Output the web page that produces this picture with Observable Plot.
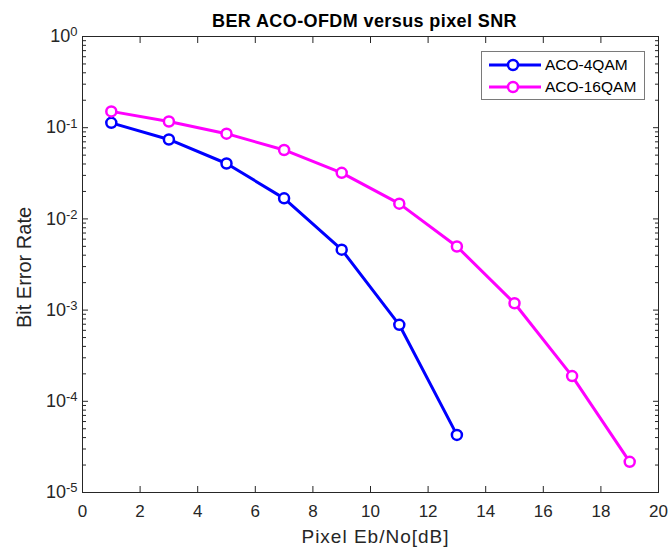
<!DOCTYPE html>
<html><head><meta charset="utf-8">
<script src="https://cdn.jsdelivr.net/npm/d3@7"></script>
<script src="https://cdn.jsdelivr.net/npm/@observablehq/plot@0.6"></script>
<style>
body{margin:0;background:#fff}
#wrap{position:relative;width:669px;height:549px;font-family:"Liberation Sans",Arial,Helvetica,sans-serif;color:#262626}
#legend{position:absolute;left:481px;top:51px;width:162px;height:47px;border:1px solid #7a7a7a;background:#fff;box-sizing:content-box}
.li{position:absolute;left:6px;height:20px;display:flex;align-items:center;font-size:15.5px;color:#000}
.li svg{margin-right:3px}
</style>
</head><body><div id="wrap"></div>
<script>
// ---- data ----
const snrDb = [1, 3, 5, 7, 9, 11, 13, 15, 17, 19];
const ber4QAM = [0.113, 0.0743, 0.0405, 0.0168, 0.0046, 0.00069, 0.0000428];
const ber16QAM = [0.151, 0.117, 0.086, 0.057, 0.032, 0.0147, 0.00498, 0.00119, 0.000189, 0.0000217];
const seriesNames = ["ACO-4QAM", "ACO-16QAM"];
const seriesColors = ["#0000ff", "#ff00ff"];
const xTicks = [0, 2, 4, 6, 8, 10, 12, 14, 16, 18, 20];
const yTicks = [1e-5, 1e-4, 1e-3, 1e-2, 1e-1, 1];
const titleText = "BER ACO-OFDM versus pixel SNR";
const xLabel = "Pixel Eb/No[dB]";
const yLabel = "Bit Error Rate";

const yMinor = [];
for (let e = -5; e < 0; e++) for (let m = 2; m <= 9; m++) yMinor.push(m * Math.pow(10, e));

const rows = [
  ...ber4QAM.map((v, i) => ({x: snrDb[i], y: v, s: seriesNames[0]})),
  ...ber16QAM.map((v, i) => ({x: snrDb[i], y: v, s: seriesNames[1]}))
];

const ink = "#262626";
const plot = Plot.plot({
  width: 669, height: 549,
  marginLeft: 82, marginRight: 11, marginTop: 36, marginBottom: 57,
  style: {fontFamily: '"Liberation Sans",Arial,Helvetica,sans-serif', fontSize: "17px", color: ink, background: "white", overflow: "visible"},
  x: {domain: [0, 20], label: null},
  y: {type: "log", domain: [1e-5, 1], label: null},
  color: {domain: seriesNames, range: seriesColors},
  marks: [
    Plot.frame({stroke: ink, strokeWidth: 1}),
    // major ticks inward
    Plot.axisX(xTicks, {anchor: "bottom", tickSize: -6, fill: "none", label: null, stroke: ink}),
    Plot.axisX(xTicks, {anchor: "top", tickSize: -6, fill: "none", label: null, stroke: ink}),
    Plot.axisY(yTicks, {anchor: "left", tickSize: -6, fill: "none", label: null, stroke: ink}),
    Plot.axisY(yTicks, {anchor: "right", tickSize: -6, fill: "none", label: null, stroke: ink}),
    Plot.axisY(yMinor, {anchor: "left", tickSize: -4, fill: "none", label: null, stroke: ink}),
    Plot.axisY(yMinor, {anchor: "right", tickSize: -4, fill: "none", label: null, stroke: ink}),
    // tick labels
    Plot.axisX(xTicks, {anchor: "bottom", tickSize: 0, tickPadding: 12, label: null, fill: ink, tickFormat: d => String(d)}),
    Plot.axisY(yTicks, {anchor: "left", tickSize: 0, tickPadding: 5, label: null, fill: ink, tickFormat: d => "E" + Math.round(Math.log10(d))}),
    // data
    Plot.line(rows, {x: "x", y: "y", z: "s", stroke: "s", strokeWidth: 3}),
    Plot.dot(rows, {x: "x", y: "y", stroke: "s", r: 5, strokeWidth: 2.5, fill: "white"}),
    // titles
    Plot.text([titleText], {frameAnchor: "top", dx: -6, dy: -15, fontSize: 18, fontWeight: "bold", fill: "#000", lineAnchor: "middle", textAnchor: "middle"}),
    Plot.text([xLabel], {frameAnchor: "bottom", dx: 5, dy: 44, fontSize: 19, fill: ink, lineAnchor: "middle", textAnchor: "middle"}),
    Plot.text([yLabel], {frameAnchor: "left", dx: -58, dy: 3, rotate: -90, fontSize: 20, fill: ink, lineAnchor: "middle", textAnchor: "middle"})
  ]
});

const svg = d3.select(plot);
svg.selectAll('g[aria-label="x-axis tick label"]').style("font-size", "17px").attr("font-size", 17);
svg.selectAll('g[aria-label="y-axis tick label"]').style("font-size", "18px").attr("font-size", 18);
// superscript exponents on y tick labels
svg.selectAll('g[aria-label="y-axis tick label"] text').each(function() {
  const t = d3.select(this);
  const s = t.text();
  if (!s.startsWith("E")) return;
  const e = s.slice(1);
  t.text(null);
  t.append("tspan").text("10");
  t.append("tspan").attr("dy", "-0.45em").style("font-size", "13px").text(e);
});
svg.selectAll('g[aria-label="text"] text').each(function(){
  const t = d3.select(this); const s = t.text();
  if (s === titleText) t.style("letter-spacing", "0.4px");
  if (s === xLabel) t.style("letter-spacing", "1px");
});

const wrap = document.getElementById("wrap");
wrap.appendChild(plot);

// legend
const leg = document.createElement("div");
leg.id = "legend";
seriesNames.forEach((name, i) => {
  const item = document.createElement("div");
  item.className = "li";
  item.style.top = (3 + i * 22) + "px";
  const col = seriesColors[i];
  item.innerHTML = `<svg width="54" height="14"><line x1="1" y1="7" x2="53" y2="7" stroke="${col}" stroke-width="3"/><circle cx="25" cy="7" r="5" stroke="${col}" stroke-width="2.5" fill="white"/></svg><span>${name}</span>`;
  leg.appendChild(item);
});
wrap.appendChild(leg);
</script>
</body></html>
